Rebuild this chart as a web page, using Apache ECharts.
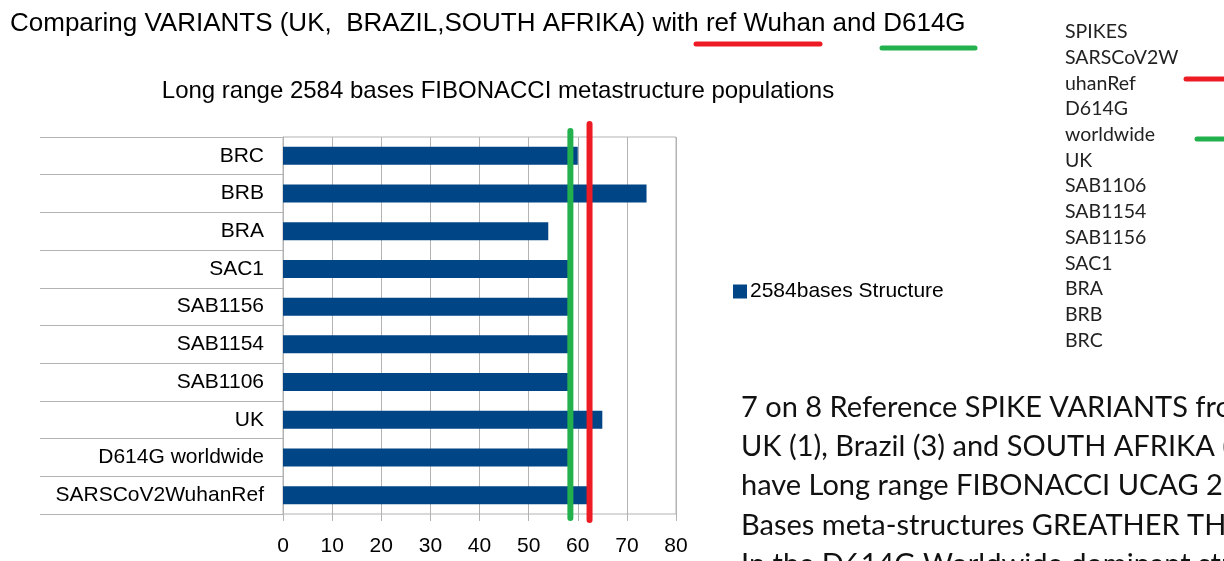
<!DOCTYPE html>
<html>
<head>
<meta charset="utf-8">
<title>FIBONACCI metastructure populations</title>
<script src="https://cdn.jsdelivr.net/npm/echarts@6/dist/echarts.min.js"></script>
<style>
  html, body { margin: 0; padding: 0; background: #fff; }
  #main { width: 1224px; height: 561px; }
</style>
</head>
<body>
<div id="main"></div>
<script>
// categories from bottom to top (category axis starts at the bottom)
var categories = ['SARSCoV2WuhanRef', 'D614G worldwide', 'UK', 'SAB1106', 'SAB1154', 'SAB1156', 'SAC1', 'BRA', 'BRB', 'BRC']
var structureValues = [62, 58, 65, 58, 58, 58, 58, 54, 74, 60]
var xTicks = { min: 0, max: 80, interval: 10 }
// hand drawn reference lines
var wuhanRefLine = 62.4
var d614gLine = 58.5
var spikeList = ['SPIKES', 'SARSCoV2W', 'uhanRef', 'D614G', 'worldwide', 'UK', 'SAB1106', 'SAB1154', 'SAB1156', 'SAC1', 'BRA', 'BRB', 'BRC']
var noteLines = [
  '7 on 8 Reference SPIKE VARIANTS from',
  'UK (1), Brazil (3) and SOUTH AFRIKA (4)',
  'have Long range FIBONACCI UCAG 2584',
  'Bases meta-structures GREATHER THAN',
  'In the D614G Worldwide dominant strain'
]

var RED = '#ed1c24'
var GREEN = '#22b14c'
var GRAY = '#b3b3b3'
var SANS = '"Liberation Sans", Arial, sans-serif'
var HUMAN = 'Lato, "Open Sans", sans-serif'

var chart = echarts.init(document.getElementById('main'), null, { renderer: 'canvas' })

var graphics = []
// list on the right
spikeList.forEach(function (t, i) {
  graphics.push({
    type: 'text',
    left: 1065,
    top: 22 + i * 25.7,
    style: { text: t, fill: '#222', font: '19.5px ' + HUMAN }
  })
})
// short marks next to the list
graphics.push({ type: 'line', shape: { x1: 1186, y1: 79, x2: 1230, y2: 79 }, style: { stroke: RED, lineWidth: 5, lineCap: 'round' } })
graphics.push({ type: 'line', shape: { x1: 1197, y1: 139, x2: 1230, y2: 139 }, style: { stroke: GREEN, lineWidth: 5, lineCap: 'round' } })
// underlines in the title
graphics.push({ type: 'line', shape: { x1: 696, y1: 44, x2: 820, y2: 44 }, style: { stroke: RED, lineWidth: 5, lineCap: 'round' } })
graphics.push({ type: 'line', shape: { x1: 882, y1: 48, x2: 975, y2: 48 }, style: { stroke: GREEN, lineWidth: 5, lineCap: 'round' } })
// paragraph bottom right
noteLines.forEach(function (t, i) {
  graphics.push({
    type: 'text',
    left: 741,
    top: 393 + i * 39.3,
    style: { text: t, fill: '#111', font: '29px ' + HUMAN }
  })
})

var option = {
  backgroundColor: '#fff',
  animation: false,
  title: [{
    text: 'Comparing VARIANTS (UK,  BRAZIL,SOUTH AFRIKA) with ref Wuhan and D614G',
    left: 5,
    top: 6,
    textStyle: { fontFamily: SANS, fontSize: 26, fontWeight: 'normal', color: '#000' }
  }, {
    text: 'Long range 2584 bases FIBONACCI metastructure populations',
    left: 493,
    top: 74,
    textAlign: 'center',
    textStyle: { fontFamily: SANS, fontSize: 24, fontWeight: 'normal', color: '#000' }
  }],
  legend: {
    left: 728,
    top: 276,
    icon: 'rect',
    itemWidth: 14,
    itemHeight: 14,
    itemGap: 4,
    textStyle: { fontFamily: SANS, fontSize: 21, color: '#000', padding: [0, 0, 0, -2] },
    data: ['2584bases Structure']
  },
  grid: {
    left: 283,
    right: 548,
    top: 137,
    bottom: 47,
    show: true,
    borderColor: GRAY,
    borderWidth: 1
  },
  xAxis: {
    type: 'value',
    min: xTicks.min,
    max: xTicks.max,
    interval: xTicks.interval,
    axisLine: { show: false },
    axisTick: { show: true, length: 7, lineStyle: { color: GRAY } },
    splitLine: { show: true, lineStyle: { color: GRAY } },
    axisLabel: { fontFamily: SANS, fontSize: 21, color: '#000', margin: 22 }
  },
  yAxis: {
    type: 'category',
    data: categories,
    axisLine: { show: true, lineStyle: { color: GRAY } },
    axisTick: { show: true, length: 243, lineStyle: { color: GRAY } },
    axisLabel: { fontFamily: SANS, fontSize: 21, color: '#000', margin: 19 }
  },
  series: [{
    name: '2584bases Structure',
    type: 'bar',
    barWidth: 18,
    itemStyle: { color: '#004586' },
    data: structureValues
  }],
  graphic: graphics
}

chart.setOption(option)

// vertical reference lines, placed through the x axis scale, running a little past the plot
var xg = chart.convertToPixel({ xAxisIndex: 0 }, d614gLine)
var xr = chart.convertToPixel({ xAxisIndex: 0 }, wuhanRefLine)
graphics.push({ type: 'line', z: 100, shape: { x1: xg, y1: 131, x2: xg, y2: 518 }, style: { stroke: GREEN, lineWidth: 6, lineCap: 'round' } })
graphics.push({ type: 'line', z: 100, shape: { x1: xr, y1: 124, x2: xr, y2: 520 }, style: { stroke: RED, lineWidth: 6, lineCap: 'round' } })
chart.setOption({ graphic: graphics })
</script>
</body>
</html>
